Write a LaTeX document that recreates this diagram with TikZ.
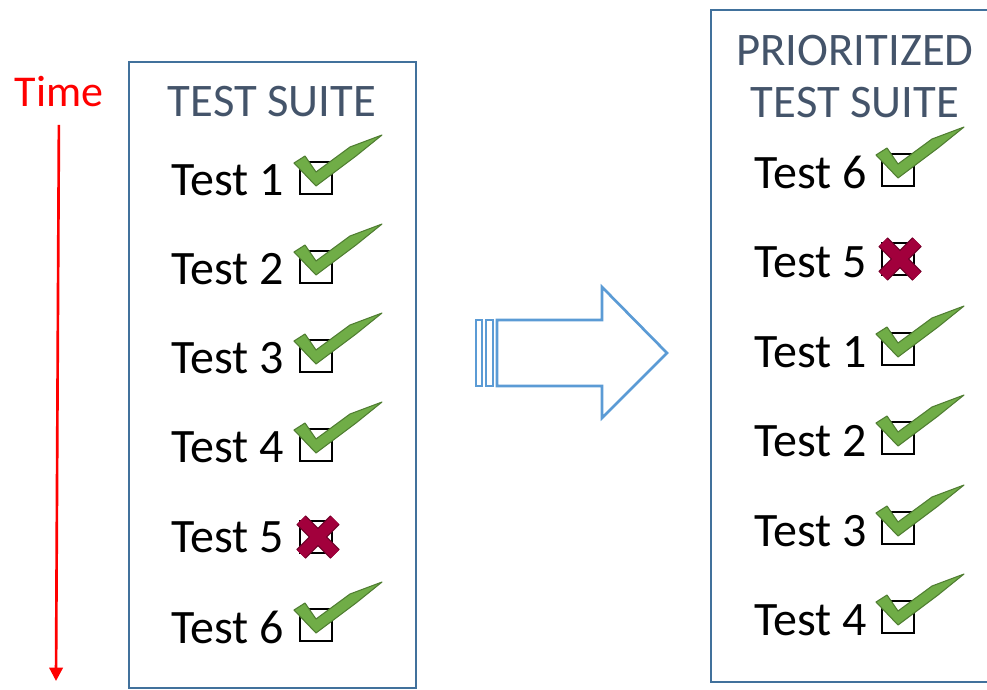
\documentclass[tikz,border=0pt]{standalone}
\usepackage{fontspec}
\setmainfont{Carlito}
\usetikzlibrary{arrows.meta}
\definecolor{boxblue}{HTML}{41719C}
\definecolor{headgray}{HTML}{44546A}
\definecolor{arrblue}{HTML}{5B9BD5}
\definecolor{tickgreen}{HTML}{70AD47}
\definecolor{tickdark}{HTML}{507E32}
\definecolor{crossred}{HTML}{A2003C}
\definecolor{crossdark}{HTML}{6E0028}
% checkbox with a green tick, centred on a named coordinate
\newcommand{\passbox}[1]{%
\begin{scope}[shift={(#1)}]
\draw [cbox] (-16,-16) rectangle (16,16);
\filldraw [tick] (-22,-15) -- (-11,-22) -- (0,-6) -- (34,-31) -- (66,-43) -- (40,-22) -- (0,8) -- cycle;
\end{scope}}
% checkbox with a red cross
\newcommand{\failbox}[1]{%
\begin{scope}[shift={(#1)}]
\draw [cbox] (-16,-16) rectangle (16,16);
\draw [crossout] (-15,-17) -- (19,17);
\draw [crossout] (19,-17) -- (-15,17);
\draw [crossin] (-15,-17) -- (19,17);
\draw [crossin] (19,-17) -- (-15,17);
\end{scope}}
\begin{document}
\begin{tikzpicture}[x=0.75pt,y=-0.75pt,
  suite/.style={draw=boxblue,line width=2pt},
  head/.style={text=headgray,font=\fontsize{35}{39}\selectfont,align=center,inner sep=0pt},
  testlbl/.style={font=\fontsize{36}{40}\selectfont,anchor=west,inner sep=0pt},
  cbox/.style={black,line width=2pt},
  tick/.style={fill=tickgreen,draw=tickdark,line width=0.8pt,line join=round},
  crossout/.style={crossdark,line width=10pt},
  crossin/.style={crossred,line width=8pt},
  bigarrow/.style={draw=arrblue,line width=2pt,fill=white}]
\useasboundingbox (0,0) rectangle (987,689);
\clip (0,0) rectangle (987,689);
% time axis
\node [text=red,font=\fontsize{33}{36}\selectfont,inner sep=0pt] (time) at (59,92) {Time};
\coordinate (tend) at (56,681);
\draw [red,line width=2pt,shorten <=13pt,-{Triangle[length=10pt,width=10pt]}] (time.south) -- (tend);
% original suite
\draw [suite] (129,62) rectangle (416,688);
\node [head] (h1) at (272,102) {TEST SUITE};
\node [testlbl] (l1) at (171,180) {Test 1};
\node [testlbl] (l2) at (171,269) {Test 2};
\node [testlbl] (l3) at (171,358) {Test 3};
\node [testlbl] (l4) at (171,447) {Test 4};
\node [testlbl] (l5) at (171,537) {Test 5};
\node [testlbl] (l6) at (171,627) {Test 6};
\coordinate (c1) at (316,178);
\coordinate (c2) at (316,267);
\coordinate (c3) at (316,356);
\coordinate (c4) at (316,445);
\coordinate (c5) at (316,537);
\coordinate (c6) at (316,625);
\passbox{c1}
\passbox{c2}
\passbox{c3}
\passbox{c4}
\failbox{c5}
\passbox{c6}
% block arrow
\draw [bigarrow] (497,320) -- (602,320) -- (602,287) -- (667,353) -- (602,418) -- (602,386) -- (497,386) -- cycle;
\draw [bigarrow] (476,320) rectangle (482,386);
\draw [bigarrow] (486,320) rectangle (493,386);
% prioritized suite
\draw [suite] (711,10) rectangle (1000,682);
\node [head] (h2) at (855,77) {PRIORITIZED\\TEST SUITE};
\node [testlbl] (r6) at (754,172) {Test 6};
\node [testlbl] (r5) at (754,262) {Test 5};
\node [testlbl] (r1) at (754,352) {Test 1};
\node [testlbl] (r2) at (754,441) {Test 2};
\node [testlbl] (r3) at (754,531) {Test 3};
\node [testlbl] (r4) at (754,620) {Test 4};
\coordinate (d6) at (898,170);
\coordinate (d5) at (898,259);
\coordinate (d1) at (898,349);
\coordinate (d2) at (898,438);
\coordinate (d3) at (898,528);
\coordinate (d4) at (898,617);
\passbox{d6}
\failbox{d5}
\passbox{d1}
\passbox{d2}
\passbox{d3}
\passbox{d4}
\end{tikzpicture}
\end{document}
